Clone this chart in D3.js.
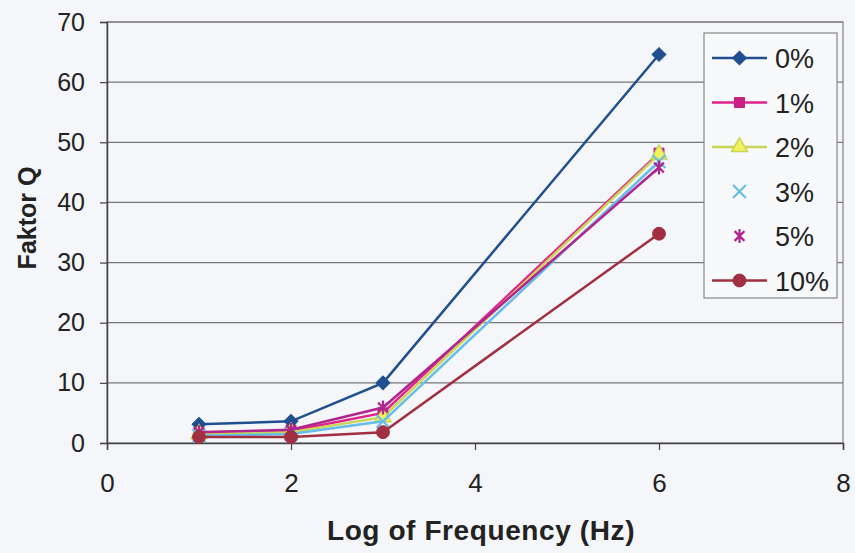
<!DOCTYPE html>
<html>
<head>
<meta charset="utf-8">
<script src="https://cdn.jsdelivr.net/npm/d3@7"></script>
<style>
  body { margin: 0; background: #f4f6fa; }
  text { font-family: "Liberation Sans", Arial, sans-serif; fill: #222; }
</style>
</head>
<body>
<script>
var xValues = [1, 2, 3, 6];
var seriesNames = ["0%", "1%", "2%", "3%", "5%", "10%"];
var q0 = [3.1, 3.6, 10.0, 64.6];
var q1 = [1.8, 2.0, 5.0, 48.2];
var q2 = [1.5, 1.8, 4.3, 48.0];
var q3 = [1.2, 1.5, 3.6, 46.8];
var q5 = [1.8, 2.2, 5.9, 45.8];
var q10 = [1.0, 1.0, 1.8, 34.8];
var xTicks = [0, 2, 4, 6, 8];
var yTicks = [0, 10, 20, 30, 40, 50, 60, 70];

var width = 855, height = 553;
var margin = {left: 107, right: 12, top: 22, bottom: 110};

var svg = d3.select("body").append("svg")
    .attr("width", width)
    .attr("height", height);

var x = d3.scaleLinear().domain([0, 8]).range([margin.left, width - margin.right]);
var y = d3.scaleLinear().domain([0, 70]).range([height - margin.bottom, margin.top]);

// plot frame + gridlines
svg.append("rect")
    .attr("x", x(0)).attr("y", y(70))
    .attr("width", x(8) - x(0)).attr("height", y(0) - y(70))
    .attr("fill", "none").attr("stroke", "#999").attr("stroke-width", 1.5);

svg.selectAll(".grid").data(yTicks.slice(1)).enter().append("line")
    .attr("x1", x(0)).attr("x2", x(8))
    .attr("y1", function(d){ return y(d); }).attr("y2", function(d){ return y(d); })
    .attr("stroke", "#777").attr("stroke-width", 1.2);

var yAxis = svg.append("g")
    .attr("transform", "translate(" + x(0) + ",0)")
    .call(d3.axisLeft(y).tickValues(yTicks).tickSize(7).tickPadding(15));
var xAxis = svg.append("g")
    .attr("transform", "translate(0," + y(0) + ")")
    .call(d3.axisBottom(x).tickValues(xTicks).tickSize(7).tickPadding(24));

[yAxis, xAxis].forEach(function(a){
  a.select(".domain").attr("stroke", "#444").attr("stroke-width", 1.5);
  a.selectAll(".tick line").attr("stroke", "#444").attr("stroke-width", 1.2);
  a.selectAll("text").style("font-size", "25px").attr("fill", "#222");
});
xAxis.selectAll("text").style("font-size", "26px");

svg.append("text")
    .attr("x", 481).attr("y", 540)
    .attr("text-anchor", "middle")
    .style("font-size", "28px").style("font-weight", "bold")
    .style("letter-spacing", "0.6px")
    .text("Log of Frequency (Hz)");

svg.append("text")
    .attr("transform", "translate(36,218) rotate(-90)")
    .attr("text-anchor", "middle")
    .style("font-size", "25px").style("font-weight", "bold")
    .text("Faktor Q");

var series = [
  {name: seriesNames[0], values: q0, color: "#1f4f8f", marker: "diamond", fill: "#1f4f8f", legendLine: true},
  {name: seriesNames[1], values: q1, color: "#e0238c", marker: "square", fill: "#cc1f86", legendLine: true},
  {name: seriesNames[2], values: q2, color: "#c9d655", marker: "triangle", fill: "#f2f25a", legendLine: true},
  {name: seriesNames[3], values: q3, color: "#66bde8", marker: "x", fill: "none", legendLine: false},
  {name: seriesNames[4], values: q5, color: "#b0268e", marker: "star", fill: "none", legendLine: false},
  {name: seriesNames[5], values: q10, color: "#a12f41", marker: "circle", fill: "#a12f41", legendLine: true}
];

// marker shapes: d3 symbols, plus a rotated square and a six-armed asterisk
var asterisk = {
  draw: function(ctx, size) {
    var r = Math.sqrt(size) / 2;
    var d = r * 0.8;
    ctx.moveTo(-d, -d); ctx.lineTo(d, d);
    ctx.moveTo(-d, d); ctx.lineTo(d, -d);
    ctx.moveTo(0, -r * 1.15); ctx.lineTo(0, r * 1.15);
  }
};
var symbolMap = {
  diamond: d3.symbolSquare, square: d3.symbolSquare, triangle: d3.symbolTriangle,
  x: d3.symbolTimes, star: asterisk, circle: d3.symbolCircle
};
var sizeMap = {diamond: 95, square: 100, triangle: 110, x: 110, star: 150, circle: 130};

function drawMarker(g, s, cx, cy) {
  var sym = d3.symbol().type(symbolMap[s.marker]).size(sizeMap[s.marker]);
  var rot = s.marker === "diamond" ? " rotate(45)" : "";
  var p = g.append("path").attr("d", sym())
    .attr("transform", "translate(" + cx + "," + cy + ")" + rot);
  if (s.marker === "x" || s.marker === "star") {
    p.attr("fill", "none").attr("stroke", s.color).attr("stroke-width", 2.2);
  } else if (s.marker === "triangle") {
    p.attr("fill", s.fill).attr("stroke", s.color).attr("stroke-width", 1.5);
  } else {
    p.attr("fill", s.fill).attr("stroke", s.fill).attr("stroke-width", 1);
  }
}

var line = d3.line()
    .x(function(d, i){ return x(xValues[i]); })
    .y(function(d){ return y(d); });

// series order as in the legend, later ones on top
series.forEach(function(s){
  var g = svg.append("g");
  g.append("path").datum(s.values)
    .attr("d", line)
    .attr("fill", "none").attr("stroke", s.color).attr("stroke-width", 2.5);
  s.values.forEach(function(v, i){ drawMarker(g, s, x(xValues[i]), y(v)); });
});

// legend
var lg = svg.append("g");
lg.append("rect")
    .attr("x", 704).attr("y", 33).attr("width", 133).attr("height", 265)
    .attr("fill", "#f8f9fb").attr("stroke", "#888").attr("stroke-width", 1.2);

series.forEach(function(s, i){
  var cy = 58 + i * 44.5;
  if (s.legendLine) {
    lg.append("line").attr("x1", 712).attr("x2", 767).attr("y1", cy).attr("y2", cy)
      .attr("stroke", s.color).attr("stroke-width", 2.5);
  }
  drawMarker(lg, s, 739.5, cy);
  lg.append("text").attr("x", 775).attr("y", cy + 10)
    .style("font-size", "27px").text(s.name);
});
</script>
</body>
</html>
